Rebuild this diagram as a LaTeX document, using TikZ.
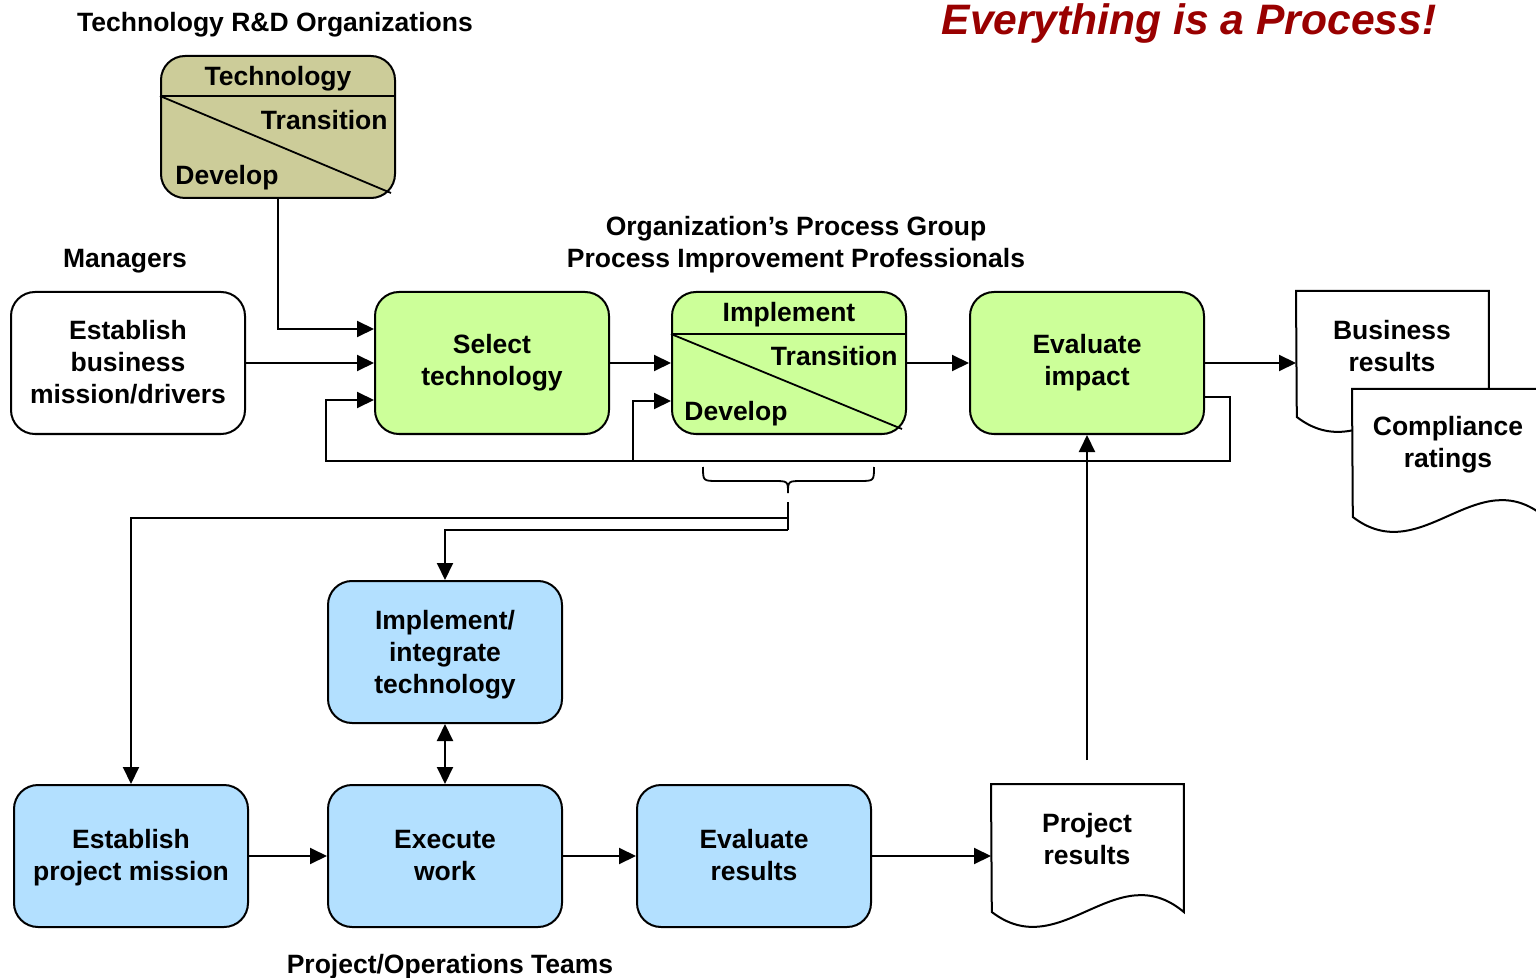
\documentclass[tikz,border=0pt]{standalone}
\usepackage{fontspec}
\setmainfont{Liberation Sans}
\usetikzlibrary{arrows.meta,calc}
\definecolor{olivefill}{RGB}{204,204,153}
\definecolor{greenfill}{RGB}{204,255,153}
\definecolor{bluefill}{RGB}{179,224,255}
\definecolor{titlered}{RGB}{153,0,0}
\tikzset{
  txt/.style={font=\fontsize{13.25}{16}\selectfont\bfseries, align=center, inner sep=0pt},
  procbox/.style={txt, draw, line width=1pt, rounded corners=12pt, minimum width=117pt, minimum height=71pt},
  whitebox/.style={procbox, fill=white},
  greenbox/.style={procbox, fill=greenfill},
  bluebox/.style={procbox, fill=bluefill},
  olivebox/.style={procbox, fill=olivefill},
  docframe/.style={inner sep=0pt, minimum width=96pt, minimum height=64pt},
  docst/.style={draw, line width=1pt, fill=white},
  arr/.style={line width=1pt, -{Triangle[length=8.5pt,width=8pt]}},
  darr/.style={line width=1pt, {Triangle[length=8.5pt,width=8pt]}-{Triangle[length=8.5pt,width=8pt]}},
  plainln/.style={line width=1pt},
  thinln/.style={line width=0.9pt},
}
\begin{document}
\begin{tikzpicture}[x=0.5pt,y=-0.5pt]
\useasboundingbox (0,0) rectangle (1536,978);

% headings
\node[txt] (hrd) at (275,25) {Technology R\&D Organizations};
\node[txt] (hmg) at (125,261) {Managers};
\node[txt] (hpg) at (796,245) {Organization’s Process Group\\Process Improvement Professionals};
\node[txt] (hpt) at (450,967) {Project/Operations Teams};
\node[inner sep=0pt, text=titlered, font=\fontsize{21.3}{25}\selectfont\bfseries\itshape] (title) at (1189,23) {Everything is a Process!};

% technology box
\node[olivebox] (tech) at (278,127) {};
\draw[plainln] ($(tech.north west)+(0,41)$) -- ($(tech.north east)+(0,41)$);
\draw[thinln] ($(tech.north west)+(0,41)$) -- ($(tech.south east)+(-5,-6)$);
\node[txt, anchor=center] (techt) at (278,79) {Technology};
\node[txt, anchor=east] (techtr) at (388,120) {Transition};
\node[txt, anchor=west] (techdv) at (175,178) {Develop};

% top row
\node[whitebox] (ebm) at (128,363) {};
\node[txt] (ebmt) at (128,362) {Establish\\business\\mission/drivers};
\node[greenbox] (sel) at (492,363) {Select\\technology};
\node[greenbox] (imp) at (789,363) {};
\draw[plainln] ($(imp.north west)+(0,43)$) -- ($(imp.north east)+(0,43)$);
\draw[thinln] ($(imp.north west)+(0,43)$) -- ($(imp.south east)+(-5,-6)$);
\node[txt] (impt) at (789,315) {Implement};
\node[txt, anchor=east] (imptr) at (898,356) {Transition};
\node[txt, anchor=west] (impdv) at (684,414) {Develop};
\node[greenbox] (evi) at (1087,363) {Evaluate\\impact};

% documents on the right
\node[docframe, anchor=north west] (bus) at (1296,291) {};
\draw[docst] (bus.north west) -- (bus.north east) -- ++(0,126)
  .. controls +(-68,-57) and +(69,53) .. ++(-192,0) -- cycle;
\node[txt] (bust) at (1392,346) {Business\\results};
\node[docframe, anchor=north west] (cmp) at (1352,389) {};
\draw[docst] (cmp.north west) -- (cmp.north east) -- ++(0,128)
  .. controls +(-68,-57) and +(69,53) .. ++(-192,0) -- cycle;
\node[txt] (cmpt) at (1448,445) {Compliance\\ratings};

% bottom boxes
\node[bluebox] (iit) at (445,652) {};
\node[txt] (iitt) at (445,655) {Implement/\\integrate\\technology};
\node[bluebox] (epm) at (131,856) {};
\node[txt] (epmt) at (131,858) {Establish\\project mission};
\node[bluebox] (exe) at (445,856) {Execute\\work};
\node[bluebox] (evr) at (754,856) {};
\node[txt] (evrt) at (754,855) {Evaluate\\results};
\node[docframe, anchor=north west] (prj) at (991,784) {};
\draw[docst] (prj.north west) -- (prj.north east) -- ++(0,128)
  .. controls +(-68,-57) and +(69,53) .. ++(-192,0) -- cycle;
\node[txt] (prjt) at (1087,839) {Project\\results};

% top row connectors
\draw[arr] (ebm.east) -- (sel.west);
\draw[arr] (tech.south) |- ($(sel.west)+(0,-34)$);
\draw[arr] (sel.east) -- (imp.west);
\draw[arr] (imp.east) -- (evi.west);
\draw[arr] (evi.east) -- (evi.east -| bus.west);

% feedback loop
\coordinate (fr) at (1230,461);
\coordinate (fl) at (326,461);
\coordinate (fm) at (633,461);
\draw[arr] ($(evi.east)+(0,34)$) -| (fr) -- (fl) |- ($(sel.west)+(0,37)$);
\draw[arr] (fm) |- ($(imp.west)+(0,38)$);

% brace
\coordinate (bt) at (788,493);
\draw[thinln] (703,467) .. controls (703,481) .. (718,481) -- (773,481) .. controls (788,481) .. (bt);
\draw[thinln] (874,467) .. controls (874,481) .. (859,481) -- (803,481) .. controls (788,481) .. (bt);

% brace branches
\coordinate (bs) at (788,502);
\coordinate (b1) at (788,518);
\coordinate (b2) at (788,530);
\draw[plainln] (bs) -- (b2);
\draw[arr] (b1) -| (epm.north);
\draw[arr] (b2) -| (iit.north);

% bottom connectors
\draw[darr] (iit.south) -- (exe.north);
\draw[arr] (epm.east) -- (exe.west);
\draw[arr] (exe.east) -- (evr.west);
\draw[arr] (evr.east) -- (evr.east -| prj.west);
\coordinate (pu) at (1087,760);
\draw[arr] (pu) -- (evi.south);
\end{tikzpicture}
\end{document}
